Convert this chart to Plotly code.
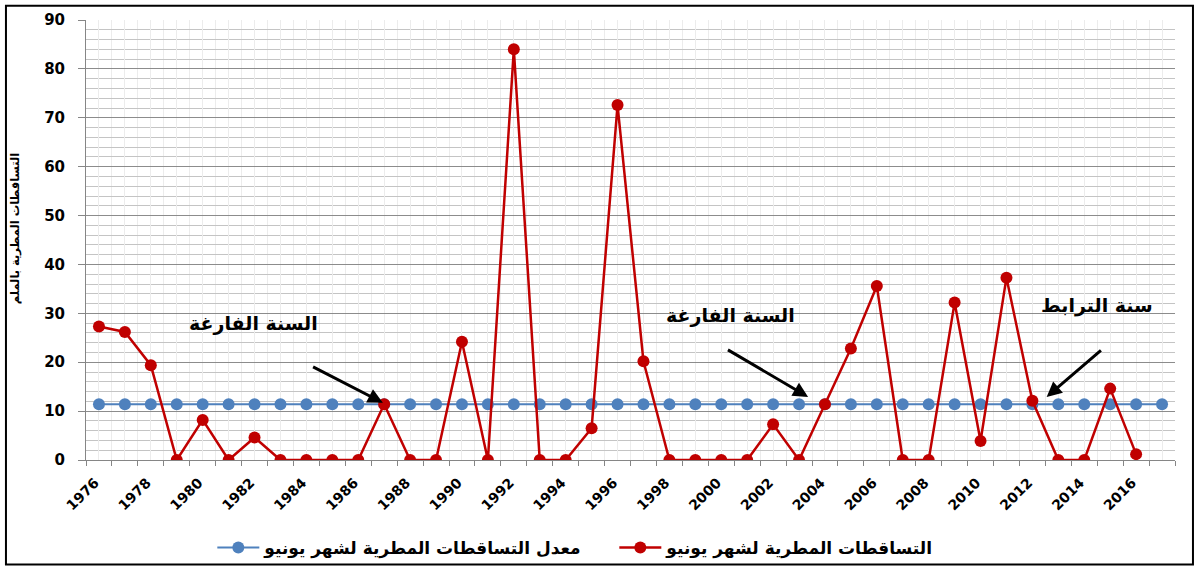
import plotly.graph_objects as go

# ---- data ----
years_rain = [1976, 1977, 1978, 1979, 1980, 1981, 1982, 1983, 1984, 1985,
              1986, 1987, 1988, 1989, 1990, 1991, 1992, 1993, 1994, 1995,
              1996, 1997, 1998, 1999, 2000, 2001, 2002, 2003, 2004, 2005,
              2006, 2007, 2008, 2009, 2010, 2011, 2012, 2013, 2014, 2015,
              2016]
rain_june = [27.3, 26.2, 19.4, 0, 8.2, 0, 4.6, 0, 0, 0,
             0, 11.4, 0, 0, 24.2, 0, 84.0, 0, 0, 6.5,
             72.6, 20.2, 0, 0, 0, 0, 7.3, 0, 11.4, 22.8,
             35.6, 0, 0, 32.2, 3.9, 37.3, 12.1, 0, 0, 14.6,
             1.2]
years_mean = [1976, 1977, 1978, 1979, 1980, 1981, 1982, 1983, 1984, 1985,
              1986, 1987, 1988, 1989, 1990, 1991, 1992, 1993, 1994, 1995,
              1996, 1997, 1998, 1999, 2000, 2001, 2002, 2003, 2004, 2005,
              2006, 2007, 2008, 2009, 2010, 2011, 2012, 2013, 2014, 2015,
              2016, 2017]
mean_june = [11.4, 11.4, 11.4, 11.4, 11.4, 11.4, 11.4, 11.4, 11.4, 11.4,
             11.4, 11.4, 11.4, 11.4, 11.4, 11.4, 11.4, 11.4, 11.4, 11.4,
             11.4, 11.4, 11.4, 11.4, 11.4, 11.4, 11.4, 11.4, 11.4, 11.4,
             11.4, 11.4, 11.4, 11.4, 11.4, 11.4, 11.4, 11.4, 11.4, 11.4,
             11.4, 11.4]
tick_years = [1976, 1977, 1978, 1979, 1980, 1981, 1982, 1983, 1984, 1985,
              1986, 1987, 1988, 1989, 1990, 1991, 1992, 1993, 1994, 1995,
              1996, 1997, 1998, 1999, 2000, 2001, 2002, 2003, 2004, 2005,
              2006, 2007, 2008, 2009, 2010, 2011, 2012, 2013, 2014, 2015,
              2016, 2017]
tick_labels = ["1976", "", "1978", "", "1980", "", "1982", "", "1984", "",
               "1986", "", "1988", "", "1990", "", "1992", "", "1994", "",
               "1996", "", "1998", "", "2000", "", "2002", "", "2004", "",
               "2006", "", "2008", "", "2010", "", "2012", "", "2014", "",
               "2016", ""]

name_mean = "معدل التساقطات المطرية لشهر يونيو"
name_rain = "التساقطات المطرية لشهر يونيو"
y_title = "التساقطات المطرية بالملم"

FONT = "DejaVu Sans"

fig = go.Figure()
fig.add_trace(go.Scatter(
    x=years_mean, y=mean_june, name=name_mean, mode="lines+markers",
    line=dict(color="#4F81BD", width=2),
    marker=dict(color="#4F81BD", size=12),
))
fig.add_trace(go.Scatter(
    x=years_rain, y=rain_june, name=name_rain, mode="lines+markers",
    line=dict(color="#C00000", width=2.5),
    marker=dict(color="#C00000", size=12),
))

arrow_style = dict(showarrow=True, arrowhead=2, arrowsize=1, arrowwidth=3,
                   arrowcolor="black", axref="x", ayref="y", text="")
fig.add_annotation(x=1986.95, y=11.7, ax=1984.2, ay=19.2, **arrow_style)
fig.add_annotation(x=2003.35, y=12.9, ax=2000.2, ay=22.7, **arrow_style)
fig.add_annotation(x=2012.55, y=12.9, ax=2014.7, ay=22.7, **arrow_style)

txt_font = dict(family=FONT, size=19, color="black", weight="bold")
fig.add_annotation(x=1981.95, y=28.0, text="السنة الفارغة", showarrow=False, font=txt_font)
fig.add_annotation(x=2000.35, y=29.6, text="السنة الفارغة", showarrow=False, font=txt_font)
fig.add_annotation(x=2014.5, y=31.7, text="سنة الترابط", showarrow=False, font=txt_font)

# y-axis title (placed as rotated annotation to sit close to the border)
fig.add_annotation(x=-0.065, y=0.527, xref="paper", yref="paper", text=y_title,
                   textangle=-90, showarrow=False, xanchor="center", yanchor="middle",
                   font=dict(family=FONT, size=11.5, color="black", weight="bold"))

# outer chart border
fig.add_shape(type="rect", xref="paper", yref="paper",
              x0=-0.0735, x1=1.0165, y0=-0.2375, y1=1.0325,
              line=dict(color="black", width=2), layer="above")

fig.update_layout(
    width=1196, height=569,
    margin=dict(l=86, r=21, t=20, b=109, autoexpand=False),
    paper_bgcolor="white", plot_bgcolor="white",
    font=dict(family=FONT, color="black", weight="bold"),
    showlegend=True,
    legend=dict(orientation="h", x=0.116, xanchor="left", y=-0.2, yanchor="middle",
                bgcolor="rgba(0,0,0,0)",
                font=dict(family=FONT, size=17, color="black", weight="bold"),
                itemwidth=42, entrywidth=345, entrywidthmode="pixels",
                traceorder="normal"),
    xaxis=dict(
        range=[1975.5, 2017.5], tickmode="array", tickvals=tick_years, ticktext=tick_labels,
        tickangle=-45, ticks="", showgrid=True, gridcolor="#ececec", gridwidth=1,
        showline=True, linecolor="#868686", linewidth=1, automargin=False,
        ticklabelstandoff=8, ticklabelshift=-4,
        tickfont=dict(family=FONT, size=14, color="black", weight="bold"),
        minor=dict(tick0=1975.5, dtick=1, ticks="outside", ticklen=5, tickcolor="#868686",
                   showgrid=True, gridcolor="#ececec", gridwidth=1),
        zeroline=False,
    ),
    yaxis=dict(
        range=[0, 90], dtick=10, tick0=0, ticks="outside", ticklen=7, tickcolor="#868686",
        showgrid=True, gridcolor="#8c8c8c", gridwidth=1, automargin=False,
        showline=True, linecolor="#868686", linewidth=1, zeroline=False,
        ticklabelstandoff=10,
        tickfont=dict(family=FONT, size=15, color="black", weight="bold"),
        minor=dict(dtick=2, showgrid=True, gridcolor="#c4c4c4", gridwidth=1),
    ),
)

fig.write_html("out.html", config={"displayModeBar": False},
               post_script="document.body.style.margin='0';")
